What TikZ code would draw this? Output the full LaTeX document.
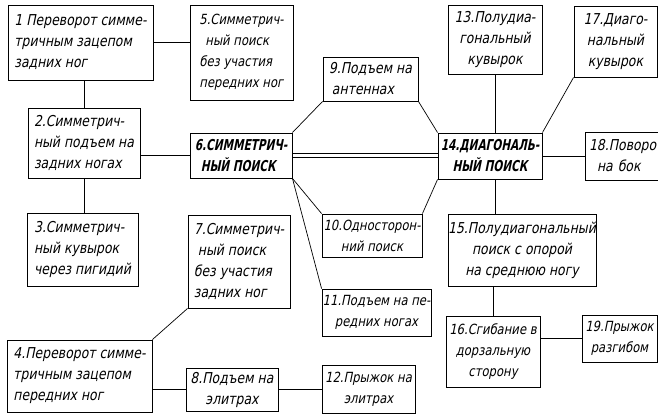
\documentclass[tikz,border=0pt]{standalone}
\usepackage{fontspec}
\setmainfont{DejaVu Sans}
\newfontfamily\handfont[FakeStretch=0.83, FakeSlant=0.2]{DejaVu Sans}
\newfontfamily\headfont[FakeStretch=0.70, FakeSlant=0.2]{DejaVu Sans Bold}
\newcommand\bx[8][]{\node[boxst, minimum width=#5pt, minimum height=#6pt, align=#7, #1] (#2) at (#3,#4) {#8};}
\begin{document}
\begin{tikzpicture}[x=1pt,y=-1pt,
  boxst/.style={draw, line width=0.9pt, inner sep=0pt, font=\handfont\fontsize{15}{21}\selectfont},
  head/.style={font=\headfont\fontsize{15}{21}\selectfont},
  small/.style={font=\handfont\fontsize{14}{21}\selectfont},
  link/.style={line width=0.7pt}]
\useasboundingbox (0,0) rectangle (658,417);
\clip (0,0) rectangle (658,417);
\fill[white] (0,0) rectangle (658,417);
\bx{n1}{80.5}{42.5}{145}{75}{left}{1 Переворот симме-\\тричным зацепом\\задних ног}
\bx[small]{n5}{241.5}{52.5}{103}{95}{left}{5.Симметрич-\\\hspace*{6pt}ный поиск\\без участия\\передних ног}
\bx{n2}{84}{143}{112}{70}{left}{2.Симметрич-\\ный подъем на\\задних ногах}
\bx[head]{n6}{241}{155.5}{102}{45}{left}{6.СИММЕТРИЧ-\\\hspace*{6pt}НЫЙ ПОИСК}
\bx{n3}{82.5}{249.5}{111}{73}{left}{3.Симметрич-\\ный кувырок\\через пигидий}
\bx{n7}{239}{261.5}{102}{93}{left}{7.Симметрич-\\\hspace*{4pt}ный поиск\\без участия\\задних ног}
\bx{n4}{79.5}{376}{145}{72}{left}{4.Переворот симме-\\тричным зацепом\\передних ног}
\bx{n8}{232}{389.5}{92}{43}{center}{8.Подъем на\\элитрах}
\bx{n9}{370.5}{79}{95}{44}{left}{9.Подъем на\\\hspace*{3pt}антеннах}
\bx[small]{n10}{372}{235.5}{100}{43}{center}{10.Односторон-\\ний поиск}
\bx[small]{n11}{376.5}{312.5}{109}{47}{center}{11.Подъем на пе-\\редних ногах}
\bx[small]{n12}{368.5}{389}{93}{48}{center}{12.Прыжок на\\элитрах}
\bx{n13}{495}{39.5}{94}{69}{center}{13.Полудиа-\\гональный\\кувырок}
\bx[head]{n14}{490}{156}{104}{46}{center}{14.ДИАГОНАЛЬ-\\НЫЙ ПОИСК}
\bx{n17}{615.5}{41.5}{83}{71}{center}{17.Диаго-\\нальный\\кувырок}
\node[boxst, minimum width=115pt, minimum height=48pt, text width=107pt, align=left] (n18) at (642.5,156) {18.Поворот\\\hspace*{8pt}на бок};
\bx{n15}{522}{250}{148}{72}{center}{15.Полудиагональный\\поиск с опорой\\на среднюю ногу}
\bx[small]{n16}{493}{351.5}{94}{71}{center}{16.Сгибание в\\дорзальную\\сторону}
\bx[small]{n19}{619.5}{338.5}{75}{47}{center}{19.Прыжок\\разгибом}
% connectors
\draw[link] (n1.east) -- (n1.east -| n5.west);
\draw[link] (n2.north) -- (n2.north |- n1.south);
\draw[link] (n6.west) -- (n6.west -| n2.east);
\draw[link] (n2.south) -- (n2.south |- n3.north);
\draw[link] (n6.north east) -- (n9.south west);
\draw[link] (n9.south east) -- (n14.north west);
\draw[link] ([yshift=2.5pt]n6.east) -- ([yshift=2.5pt]n6.east -| n14.west);
\draw[link] ([yshift=-2pt]n6.east) -- ([yshift=-2pt]n6.east -| n14.west);
\draw[link] (n6.south east) -- (n10.north west);
\draw[link] (n10.north east) -- (n14.south west);
\draw[link] (n6.south east) -- (n11.north west);
\draw[link] (n13.south) -- (n13.south |- n14.north);
\draw[link] (n14.north east) -- (n17.south west);
\draw[link] (n14.east) -- (n14.east -| n18.west);
\draw[link] ([xshift=5pt]n14.south) -- ([xshift=5pt]n14.south |- n15.north);
\draw[link] (n16.north) -- (n16.north |- n15.south);
\draw[link] (n19.west) -- (n19.west -| n16.east);
\draw[link] (n7.south west) -- (n4.north east);
\draw[link] (n8.west) -- (n8.west -| n4.east);
\draw[link] (n8.east) -- (n8.east -| n12.west);
\end{tikzpicture}
\end{document}
